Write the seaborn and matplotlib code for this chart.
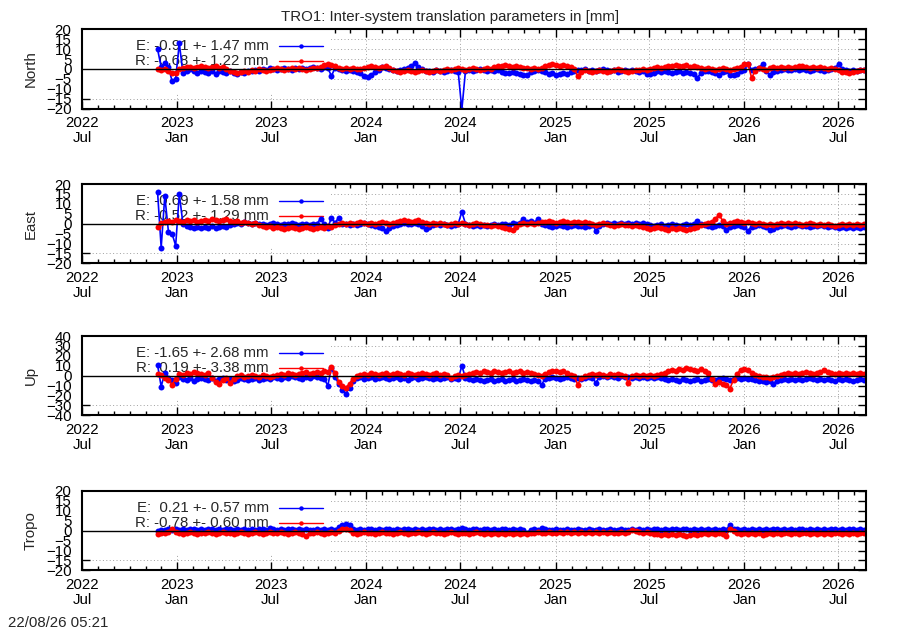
import pandas as pd
import seaborn as sns
import matplotlib.pyplot as plt
import matplotlib.dates as mdates
from matplotlib.patches import Rectangle

sns.set_style("ticks")
plt.rcParams['font.family'] = ['Liberation Sans', 'DejaVu Sans']

# weekly values (mm), first epoch 2022-11-24, one row ~ one quarter
START = "2022-11-24"

north_e = [10, 1, 3, 1, -6, -5, 13, -2, -1, 0, -1, -2, -1,
           -1.5, -2, -1, -2.5, -1, -1.5, -2, -1, -2, -2.5, -1.5, -2, -1,
           -1, -0.5, -1, 0, -0.5, 0.5, 0, -0.5, 0, 0.5, 0, -0.5, 0.5,
           0, 0.5, 0, 0.5, 1, 0.5, 0, 1, 0.5, -3.5, 0.5, 0, -0.5,
           -1, -0.5, -1, -1.5, -2, -3.5, -4, -3, -1.5, -0.5, 1, 0.5, 0,
           -0.5, -1, -0.5, 0, 0.5, 1.5, 3, 1, 0, -1, -1, -1.5, -0.5,
           -1, -1.5, -1, -0.5, -1, -1.5, -20.5, -1, -0.5, -1, -0.5, 0, -0.5,
           -1, -0.5, -1, -0.5, -1.5, -2, -2, -1.5, -2, -2.5, -3, -3, -1.5,
           -1, -0.5, -1, -1.5, -2.5, -2, -3, -2.5, -2, -2.5, -1.5, -1, -0.5,
           -0.5, 0, -1, -0.5, -1, -0.5, 0, -0.5, -1, -0.5, -1.5, -1, -0.5,
           -1, -0.5, -1, -1.5, -1, -2.5, -2.5, -2, -1, -1.5, -1, -1.5, -2,
           -1.5, -1, -2, -1.5, -2, -2.5, -4.5, -2, -1, -1, -1.5, -2, -3,
           -1.5, -1, -3, -3, -2.5, -1, -0.5, 2.5, -0.5, 0, 0.5, 2.5, -1,
           -3, -1.5, -1, -0.5, 0, -0.5, -0.5, 0, -0.5, 0, -0.5, -1, -0.5,
           0, -0.5, -1, -0.5, 0, 0.5, 2.5, 0, -0.5, -1, -0.5, -1, -0.5,
           -0.5]
north_r = [0, -0.5, 0, -1, -2, -2, 0, 0.5, 1, 1, 0.5, 1, 1.5,
           1, 0.5, 1, 1.5, 0.5, 1, 0, -1, -1.5, -2, -1.5, -1, -1.5,
           -0.5, -1, 0, -0.5, -1, -0.5, 0, 0.5, 0, -0.5, 0, 0.5, 0,
           0.5, 0, -0.5, 0, 0.5, 0.5, 1, 2, 2.5, 2, 1.5, 0.5, 0,
           0.5, 0, 0.5, 0, 0, 0.5, 1, 1.5, 1, 0.5, 1, 1.5, 0.5,
           -0.5, -1, -1.5, -1, -0.5, -1, -1.5, -1, -0.5, -1, -1.5, -1, -0.5,
           -1, -0.5, 0, -0.5, 0, 0.5, 0, -0.5, 0, 0.5, 0, -0.5, 0,
           0.5, 0, 1, 1.5, 1.5, 2, 1.5, 1, 1.5, 1, 0.5, 0.5, 0,
           0.5, 0, 0.5, 1.5, 2, 2.5, 2, 1.5, 2, 1.5, 1, 0, -3.5,
           -1.5, -0.5, -1, -1.5, -1, -0.5, -1, -1.5, -1, -0.5, 0, -0.5, -1,
           -1.5, -1, -0.5, -0.5, 0, -0.5, 0, 0.5, 1, 0.5, 1, 1.5, 1.5,
           2, 1.5, 1.5, 2, 1, 1.5, 1, 0.5, 0, 0.5, 0, -0.5, 0,
           0.5, 0, -0.5, 0, 0.5, 1, 2.5, 2.5, -4.5, -1, 0.5, 0, -0.5,
           0.5, 1, 0.5, 1, 0.5, 1, 0.5, 1, 1.5, 1.5, 1, 0.5, 1,
           0.5, 1, 0.5, 0, 0.5, 0, -0.5, -1.5, -1.5, -2, -1.5, -1, -0.5,
           -0.5]

east_e = [16, -12, 14, -4, -5, -11, 15, 0, -1, -1.5, -2, -1.5, -2,
          -1.5, -2, -1, -2, -1.5, -1, -1.5, -0.5, 0, 0.5, 0, 1, 0.5,
          0, 0.5, 0, 0, -0.5, 0, 0.5, 0, -0.5, 0, 0, 0.5, 0,
          -0.5, 0, 0, -0.5, 0, 0, 2.5, 0, -2, 3, 0.5, 3, 0,
          0, -0.5, 0, -0.5, 0, 0.5, 0, -0.5, -1, -1.5, -2, -3.5, -2,
          -1, -0.5, 0, 0.5, 0, 0, 0.5, 0, -1, -2.5, -1.5, -0.5, 0,
          -0.5, 0, -0.5, -1, -0.5, 0, 6, 0, -0.5, -1, -0.5, -1, -0.5,
          -1, -0.5, 0, -0.5, 0, 0, -0.5, 0.5, 0, 0.5, 2.5, 1, 1.5,
          0.5, 2.5, 0, -0.5, -1, -1.5, -1, -0.5, -1, -1.5, -1, -0.5, -1,
          -1, -1.5, -1, -0.5, -3.5, -1, 0, 0.5, 0, 0.5, 0, 0.5, 0,
          0.5, 0, 0.5, 0, 0.5, 0, -0.5, -1, -0.5, 0, -1, -0.5, 0,
          -0.5, -1, -0.5, 0, -0.5, 0, 1.5, 0, -0.5, -1, -1.5, -1, -0.5,
          -1, -3, -1.5, -1, -0.5, -1, -1.5, -3.5, -1.5, -1, -0.5, -1, -1.5,
          -3, -2.5, -1.5, -1, -0.5, -1, -1.5, -1, -0.5, -1, -1, -1.5, -1,
          -1, -0.5, -1, -1.5, -1, -1.5, -2, -1.5, -2, -1.5, -2, -1.5, -2,
          -1.5]
east_r = [-1.5, 0.5, 1, 1.5, 1, 2, 1.5, 1, 2, 1.5, 2, 1, 1.5,
          2, 1.5, 2.5, 2, 1.5, 2, 2.5, 1.5, 1, 1.5, 0.5, 1, 0.5,
          0, 0.5, -0.5, -1, -1.5, -1, -2, -1.5, -2, -2.5, -2, -1.5, -2,
          -2.5, -2, -1.5, -2, -2.5, -2, -1.5, -2, -1, -1.5, -0.5, 0, 0.5,
          0, 0.5, 0, 0.5, 1, 0.5, 0, 0.5, 0, 0.5, 1, 0.5, 0,
          0.5, 1, 1.5, 2, 1.5, 1, 1.5, 2, 1, 0.5, 0, 0.5, 0,
          0.5, 0, -0.5, 0, 0.5, 0, 0.5, 0, -0.5, 0, 0.5, 0, -0.5,
          -0.5, -1, -0.5, -1, -1.5, -2, -2.5, -3, -1.5, 0, 0.5, 0, 0.5,
          0, 0.5, 1, 1, 1.5, 1, 0.5, 1, 1.5, 1, 0.5, 1, 1,
          0.5, 1, 0.5, 0, -0.5, 0, 0.5, 0, -0.5, -1, -0.5, 0, -0.5,
          -0.5, -1, -0.5, -1, -1.5, -2, -2.5, -2, -1.5, -2, -2.5, -3, -2,
          -2.5, -2, -2.5, -3, -2.5, -2, -1.5, -0.5, 0, 0.5, 1, 2.5, 4.5,
          1.5, 0, 0.5, 1, 1.5, 1, 0.5, 1, 0.5, 0, 0.5, 0, -0.5,
          0, -0.5, 0, 0.5, 0, 0.5, 0, 0.5, 0, -0.5, 0, 0.5, 0,
          -0.5, 0, -0.5, 0, -0.5, -1, -0.5, 0, -0.5, 0, -0.5, 0, -0.5,
          0]

up_e = [11, -11, 3, -2, -4, -7, -1, -3, -4, -2, -5, -3, -2,
        -3, -4, -2, -5, -3, -2, -4, -3, -5, -4, -2, -3, -4,
        -3, -2, -4, -3, -2, -3, -1, -2, -3, -1, -2, 0, -1,
        -2, -3, -1, -2, 0, -1, -2, -3, -10, 8, -1, -8, -14,
        -18, -12, -5, -2, -1, -3, -2, -1, -3, -2, -1, -2, -3,
        -2, -1, -3, -2, -4, -2, -1, -3, -2, -1, -2, -3, -2,
        -3, -2, -1, -3, -2, -3, 10, -2, -3, -4, -3, -4, -5,
        -4, -3, -5, -4, -3, -5, -4, -3, -5, -4, -3, -4, -5,
        -4, -5, -9, -3, -2, -1, -2, -3, -2, -1, -2, -3, -2,
        -3, -2, -1, -2, -7, -1, 0, -1, 0, -1, -2, 0, -1,
        -1, -2, -1, -2, -1, -2, -1, -2, -1, -2, -3, -4, -3,
        -4, -5, -3, -4, -5, -4, -3, -5, -4, -3, -4, -4, -3,
        -2, -3, -4, -3, -2, -3, -2, -3, -3, -4, -5, -5, -6,
        -5, -8, -5, -4, -3, -4, -3, -4, -3, -4, -3, -2, -3,
        -4, -3, -4, -3, -4, -5, -3, -4, -3, -4, -5, -4, -3,
        -4]
up_r = [2, 1, -2, -4, -9, -3, 2, 1, 3, 2, 4, 3, 2,
        1, 3, -2, -6, -8, -4, -2, -7, -3, 0, 1, -1, 0,
        1, 0, -1, 1, 0, -1, 0, 1, 2, 1, 3, 2, 1,
        2, 3, 4, 2, 3, 4, 3, 5, 4, 9, 3, -6, -10,
        -12, -8, -3, 0, 1, 2, 1, 3, 2, 1, 2, 3, 1,
        2, 3, 2, 1, 3, 2, 1, 2, 3, 2, 1, 2, 3,
        1, 2, 1, -2, 0, 1, 0, 1, 2, 3, 4, 3, 5,
        4, 3, 5, 4, 3, 4, 5, 3, 4, 5, 3, 4, 3,
        2, 1, 0, 2, 4, 5, 5, 4, 5, 3, 1, 0, -9,
        -2, 0, 1, 2, 1, 2, 1, 0, 2, 1, 2, 1, 0,
        -7, 0, 1, 0, 1, 0, 1, 0, 1, 2, 3, 5, 6,
        5, 7, 6, 8, 7, 6, 5, 7, 5, 3, -3, -8, -6,
        -8, -9, -13, -4, 2, 6, 7, 6, 3, 1, 0, -1, -1,
        -2, -1, 0, 1, 2, 3, 2, 3, 2, 3, 4, 3, 2,
        3, 4, 6, 4, 3, 2, 3, 2, 3, 2, 3, 2, 3,
        2]

tropo_e = [0, 0.5, 0.5, 1, 0.5, 1, 0.5, 1, 0.5, 1, 1, 0.5, 1,
           0.5, 1, 1, 0.5, 1, 0.5, 1, 1, 0.5, 1, 0.5, 1, 0.5,
           1, 0.5, 1, 1, 0.5, 1.5, 1, 0.5, 1, 0.5, 1, 1, 0.5,
           1, 0.5, 1, 0.5, 0.5, 1, 0.5, 1, 0.5, 1, 0.5, 2, 3,
           3.5, 3, 1, 0.5, 1, 0.5, 1, 1, 0.5, 1, 0.5, 1, 1,
           0.5, 1, 0.5, 1, 1, 0.5, 1, 0.5, 1, 0.5, 1, 1, 0.5,
           1, 0.5, 1, 1, 0.5, 1, 1.5, 1, 0.5, 1, 1, 0.5, 1,
           1, 0.5, 1, 0.5, 1, 1, 0.5, 1, 0.5, 1, 0.5, -1, 0.5,
           1, 0.5, 1.5, 1, 0.5, 0.5, 1, 0.5, 0.5, 1, 0.5, 0.5, 1,
           0.5, 0.5, 1, 0.5, 0.5, 1, 0.5, 0.5, 1, 0.5, 0.5, 1, 0.5,
           0.5, 1, 0.5, 1, 0.5, 1, 0.5, 1, 1, 0.5, 1, 0.5, 1,
           1, 0.5, 1, 1, 0.5, 1, 0.5, 1, 0.5, 1, 0.5, 1, 0.5,
           1, 0.5, 3, 1, 1, 0.5, 1, 0.5, 1, 0.5, 1, 0.5, 1,
           0.5, 1, 1, 0.5, 1, 0.5, 1, 0.5, 1, 1, 0.5, 1, 0.5,
           1, 0.5, 1, 0.5, 1, 1, 0.5, 1, 0.5, 1, 1, 0.5, 1,
           0.5]
tropo_r = [-1.5, -1, -1, -0.5, 1, -0.5, -1, -1.5, -1, -0.5, -1, -1.5, -1,
           -1, -0.5, -1, -1.5, -1, -0.5, -1, -1, -1.5, -1, -0.5, -1, -1.5,
           -1, -0.5, -1, -1.5, -1, -0.5, -1, -1, -0.5, -1, -1.5, -1, -0.5,
           -1, -1.5, -2.5, -1, -1, -0.5, -1, -1.5, -1, -0.5, -1, 0, 1,
           1, 0.5, -1, -1.5, -1, -0.5, -1, -1, -1.5, -1, -0.5, -1, -1,
           -1.5, -1, -0.5, -1, -1.5, -1, -1, -0.5, -1, -1.5, -1, -0.5, -1,
           -1, -1.5, -1, -0.5, -1, -1.5, -1, -1, -1.5, -1, -0.5, -1, -1.5,
           -1, -1.5, -1, -1.5, -1, -1.5, -1, -1.5, -1, -1.5, -1, -1.5, -1,
           -1, -0.5, -1, -1, -0.5, -1, -1, -0.5, -1, -0.5, -1, -0.5, -1,
           -0.5, -1, -0.5, -1, -0.5, -1, -0.5, -1, -0.5, -1, -1, -0.5, -1,
           -0.5, 0.5, 0, -0.5, -1, -0.5, -1, -1.5, -1.5, -2, -1.5, -2, -1.5,
           -2, -1.5, -2, -2.5, -2, -1.5, -2, -1.5, -1, -1.5, -1, -1.5, -1,
           -1.5, -2.5, 1, 0, -1, -1.5, -1, -1.5, -1, -1.5, -1, -2, -1.5,
           -1, -1.5, -1, -1.5, -1, -1, -1.5, -1, -1.5, -1, -1, -1.5, -1,
           -1.5, -1, -1.5, -1, -1.5, -1, -1, -1.5, -1, -1.5, -1, -1.5, -1,
           -1]

panel_names = ["North", "East", "Up", "Tropo"]
e_labels = ["E: -0.91 +- 1.47 mm", "E: -0.69 +- 1.58 mm",
            "E: -1.65 +- 2.68 mm", "E:  0.21 +- 0.57 mm"]
r_labels = ["R: -0.68 +- 1.22 mm", "R: -0.52 +- 1.29 mm",
            "R:  0.19 +- 3.38 mm", "R: -0.78 +- 0.60 mm"]
y_limits = [20, 20, 40, 20]
e_series = [north_e, east_e, up_e, tropo_e]
r_series = [north_r, east_r, up_r, tropo_r]

fig = plt.figure(figsize=(9, 6.3), dpi=100)
tops = [29.3, 184, 336, 491]  # pixel rows of the panel tops
FS = 10.8
MS = 4.3

for i, name in enumerate(panel_names):
    bottom = 1 - (tops[i] + 79.4) / 630
    ax = fig.add_axes([82 / 900, bottom, 784 / 900, 79.4 / 630])
    lim = y_limits[i]

    ax.grid(True, which='major', ls=(0, (1, 2.5)), color='#a0a0a0', lw=0.7)
    ax.set_axisbelow(True)
    # opaque key box hides the grid in the upper left corner
    ax.add_patch(Rectangle((0, 0.19), 0.318, 0.81, transform=ax.transAxes,
                           facecolor='white', edgecolor='none', zorder=1))

    e = e_series[i]
    r = r_series[i]
    de = pd.date_range(START, periods=len(e), freq='7D')
    dr = pd.date_range(START, periods=len(r), freq='7D')
    sns.lineplot(x=de, y=e, ax=ax, color='#0000ff', marker='o', markersize=MS,
                 markeredgewidth=0, linewidth=1.2, estimator=None, zorder=2)
    sns.lineplot(x=dr, y=r, ax=ax, color='#ff0000', marker='o', markersize=MS,
                 markeredgewidth=0, linewidth=1.2, estimator=None, zorder=2.1)
    ax.axhline(0, color='black', lw=1.0, zorder=3)

    # key
    for txt, col, yk in [(e_labels[i], '#0000ff', 0.79), (r_labels[i], '#ff0000', 0.60)]:
        ax.text(0.2385, yk, txt, transform=ax.transAxes, ha='right', va='center',
                fontsize=FS, zorder=1.5)
        ax.plot([0.251, 0.307], [yk, yk], transform=ax.transAxes, color=col,
                lw=1.0, zorder=1.6)
        ax.plot([0.279], [yk], transform=ax.transAxes, color=col, marker='o',
                markersize=3.2, markeredgewidth=0, zorder=1.6)

    ax.set_xlim(pd.Timestamp("2022-07-01"), pd.Timestamp("2026-08-24"))
    ax.set_ylim(-lim, lim)
    ax.set_yticks(range(-lim, lim + 1, lim // 4))
    ax.xaxis.set_major_locator(mdates.MonthLocator(bymonth=[1, 7]))
    ax.xaxis.set_minor_locator(mdates.MonthLocator())
    ax.xaxis.set_major_formatter(mdates.DateFormatter('%Y\n%b'))
    ax.tick_params(which='both', direction='in', top=True, right=True,
                   width=1.0, labelsize=FS, colors='black')
    ax.tick_params(which='major', length=5.5)
    ax.tick_params(which='minor', length=3)
    ax.tick_params(axis='x', pad=5.5)
    ax.tick_params(axis='y', pad=7.5)
    for lab in ax.get_xticklabels():
        lab.set_linespacing(1.08)
    for sp in ax.spines.values():
        sp.set_linewidth(1.5)
        sp.set_color('black')
        sp.set_zorder(4)
    ax.set_xlabel('')
    ax.set_ylabel(name, fontsize=FS)
    ax.yaxis.set_label_coords(-0.056, 0.5)

fig.text(0.5, 1 - 20.7 / 630, "TRO1: Inter-system translation parameters in [mm]",
         ha='center', va='baseline', fontsize=FS)
fig.text(8 / 900, 1 - 627 / 630, "22/08/26 05:21", ha='left', va='baseline',
         fontsize=FS)

fig.savefig('out.png', dpi=100)
